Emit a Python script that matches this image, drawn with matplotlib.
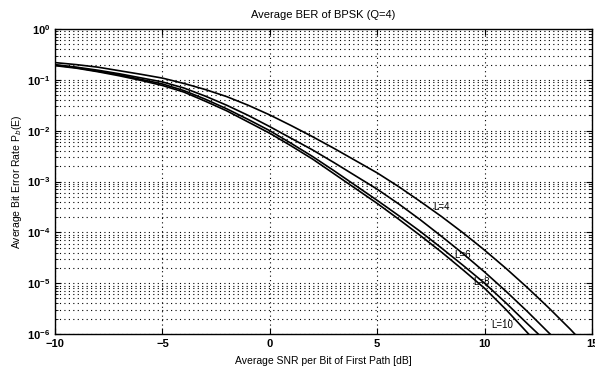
import numpy as np
import matplotlib
matplotlib.use('Agg')
import matplotlib.pyplot as plt
from matplotlib.ticker import LogLocator, NullFormatter

plt.rcParams['font.family'] = ['Liberation Sans', 'DejaVu Sans']

# SNR points [dB] and log10(BER)
snr_l4 = [-10, -9, -8, -7, -6, -5, -4, -3, -2, -1, 0, 1, 2, 3, 4, 5, 6, 7, 8, 9, 10, 11, 12, 13, 14, 14.2]
ber_l4 = [-0.66, -0.70, -0.75, -0.82, -0.89, -0.965, -1.07, -1.19, -1.33, -1.50, -1.69,
          -1.90, -2.12, -2.35, -2.59, -2.83, -3.10, -3.39, -3.69, -4.01, -4.35, -4.71,
          -5.09, -5.49, -5.91, -6.0]
snr_l6 = [-10, -9, -8, -7, -6, -5, -4, -3, -2, -1, 0, 1, 2, 3, 4, 5, 6, 7, 8, 9, 10, 11, 12, 13, 13.05]
ber_l6 = [-0.70, -0.75, -0.81, -0.88, -0.96, -1.04, -1.16, -1.32, -1.50, -1.70, -1.92,
          -2.15, -2.38, -2.63, -2.89, -3.15, -3.44, -3.75, -4.08, -4.42, -4.78, -5.16,
          -5.56, -5.98, -6.0]
snr_l8 = [-10, -9, -8, -7, -6, -5, -4, -3, -2, -1, 0, 1, 2, 3, 4, 5, 6, 7, 8, 9, 10, 11, 12, 12.5]
ber_l8 = [-0.71, -0.76, -0.83, -0.90, -0.99, -1.08, -1.21, -1.38, -1.57, -1.78, -2.00,
          -2.25, -2.51, -2.79, -3.08, -3.37, -3.67, -3.98, -4.31, -4.65, -5.00, -5.39,
          -5.80, -6.0]
snr_l10 = [-10, -9, -8, -7, -6, -5, -4, -3, -2, -1, 0, 1, 2, 3, 4, 5, 6, 7, 8, 9, 10, 11, 12.05]
ber_l10 = [-0.72, -0.77, -0.84, -0.92, -1.01, -1.11, -1.24, -1.42, -1.61, -1.83, -2.05,
           -2.30, -2.56, -2.85, -3.14, -3.43, -3.74, -4.06, -4.39, -4.74, -5.10, -5.52,
           -6.0]

labels = ['L=4', 'L=6', 'L=8', 'L=10']
label_x = [8.0, 8.98, 9.86, 10.84]
label_y = [-3.50, -4.45, -4.98, -5.83]

fig = plt.figure(figsize=(5.95, 3.71), dpi=100)
ax = fig.add_axes([0.0924, 0.0997, 0.9025, 0.822])

for s, b in [(snr_l4, ber_l4), (snr_l6, ber_l6), (snr_l8, ber_l8), (snr_l10, ber_l10)]:
    ax.plot(s, 10 ** np.array(b), color='k', linewidth=1.2)

for t, x, y in zip(labels, label_x, label_y):
    ax.text(x, 10 ** y, t, fontsize=7, ha='center', va='center')

ax.set_yscale('log')
ax.set_xlim(-10, 15)
ax.set_ylim(1e-6, 1)
ax.set_xticks([-10, -5, 0, 5, 10, 15])
ax.set_xticklabels(['\u221210', '\u22125', '0', '5', '10', '15'])
ax.yaxis.set_major_locator(LogLocator(base=10, numticks=10))
ax.yaxis.set_minor_locator(LogLocator(base=10, subs=np.arange(2, 10), numticks=10))
ax.yaxis.set_minor_formatter(NullFormatter())

dots = (0, (1, 3))
ax.grid(True, which='major', axis='both', linestyle=dots, color='k', linewidth=0.8)
ax.grid(True, which='minor', axis='y', linestyle=dots, color='k', linewidth=0.8)

ax.tick_params(which='both', direction='in', top=True, right=True, labelsize=8)
ax.tick_params(which='major', length=4)
ax.tick_params(which='minor', length=2)
for lab in ax.get_xticklabels() + ax.get_yticklabels():
    lab.set_fontweight('bold')
for sp in ax.spines.values():
    sp.set_linewidth(1.0)

ax.set_title('Average BER of BPSK (Q=4)', fontsize=8, pad=8)
ax.set_xlabel('Average SNR per Bit of First Path [dB]', fontsize=7.5, labelpad=5)
ax.set_ylabel('Average Bit Error Rate P$_b$(E)', fontsize=7.5, labelpad=2)

fig.savefig('out.png', dpi=100)
